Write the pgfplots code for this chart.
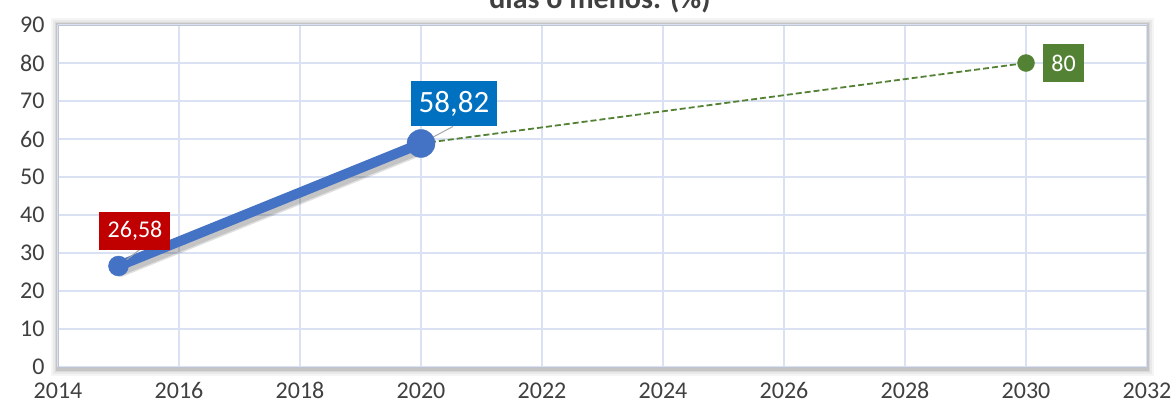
\documentclass[border=0pt]{standalone}
\usepackage{pgfplots}
\pgfplotsset{compat=1.18}
\usepackage{fontspec}
\setmainfont{Carlito}
\definecolor{gridc}{HTML}{D9E1F2}
\definecolor{tickc}{HTML}{404040}
\definecolor{blueline}{HTML}{4472C4}
\definecolor{greenc}{HTML}{548235}
\definecolor{redc}{HTML}{C00000}
\definecolor{bluebox}{HTML}{0070C0}
\begin{document}
\begin{tikzpicture}
% soft shadow around the plot area
\foreach \i/\o in {7/0.04,5/0.05,3/0.07,1.5/0.09}
  \fill[black, opacity=\o] (-\i pt,-\i pt-2pt) rectangle (1089pt+\i pt,342pt+\i pt);
\begin{axis}[
    scale only axis,
    width=1089pt, height=342pt,
    xmin=2014, xmax=2032, ymin=0, ymax=90,
    xtick={2014,2016,...,2032},
    ytick={0,10,...,90},
    axis background/.style={fill=white},
    grid=major,
    major grid style={gridc, line width=1.2pt},
    axis line style={gridc!70!gray, line width=0.8pt},
    tick style={draw=none},
    ticklabel style={font=\fontsize{24}{28}\selectfont, text=tickc},
    /pgf/number format/assume math mode=true,
    /pgf/number format/1000 sep={},
    xticklabel style={yshift=-12pt},
    yticklabel style={xshift=-10pt},
    clip=false,
]
% shadow of the main line
\addplot[black, opacity=0.12, line width=14pt, xshift=2pt, yshift=-4pt, line cap=round]
  coordinates {(2015,26.58) (2020,58.82)};
\addplot[black, opacity=0.12, line width=11pt, xshift=2pt, yshift=-4pt, line cap=round]
  coordinates {(2015,26.58) (2020,58.82)};
\addplot[blueline, line width=10pt, mark=none]
  coordinates {(2015,26.58) (2020,58.82)};
\addplot[greenc, line width=1.8pt, dash pattern=on 6pt off 3pt, mark=none]
  coordinates {(2020,58.82) (2030,80)};

\addplot[only marks, mark=*, mark size=10pt, blueline,
  mark options={fill=blueline, draw=blueline}]
  coordinates {(2015,26.58)};
\addplot[only marks, mark=*, mark size=14pt, blueline,
  mark options={fill=blueline, draw=blueline}]
  coordinates {(2020,58.82)};
\addplot[only marks, mark=*, mark size=8.5pt, greenc,
  mark options={fill=greenc, draw=greenc},
  point meta=explicit symbolic, nodes near coords,
  nodes near coords style={fill=greenc, text=white, anchor=center,
    font=\fontsize{24}{28}\selectfont, minimum height=38pt, minimum width=41pt,
    inner sep=0pt, xshift=37.5pt, yshift=0pt}]
  coordinates {(2030,80) [80]};

% leader lines
\draw[gray!70, line width=1pt] (axis cs:2015,26.58) -- ++(22pt,17pt);
\draw[gray!70, line width=1pt] (axis cs:2020,58.82) -- ++(32pt,17pt);

% data labels
\addplot[only marks, mark=none,
  point meta=explicit symbolic, nodes near coords,
  nodes near coords style={fill=redc, text=white, anchor=center,
    font=\fontsize{24}{28}\selectfont, minimum height=38pt, minimum width=71pt,
    inner sep=0pt, xshift=16.5pt, yshift=35pt}]
  coordinates {(2015,26.58) [26{,}58]};
\addplot[only marks, mark=none,
  point meta=explicit symbolic, nodes near coords,
  nodes near coords style={fill=bluebox, text=white, anchor=center,
    font=\fontsize{31}{36}\selectfont, minimum height=45pt, minimum width=86pt,
    inner sep=0pt, xshift=33pt, yshift=39.5pt}]
  coordinates {(2020,58.82) [58{,}82]};
\end{axis}
% title, cut by the top edge as in the reference
\node[anchor=base, font=\bfseries\fontsize{30}{34}\selectfont, text=tickc]
  at (542pt,358pt) {días o menos. (\%)};
\pgfresetboundingbox
\useasboundingbox (-58pt,-38pt) rectangle (1113pt,367pt);
\end{tikzpicture}
\end{document}
